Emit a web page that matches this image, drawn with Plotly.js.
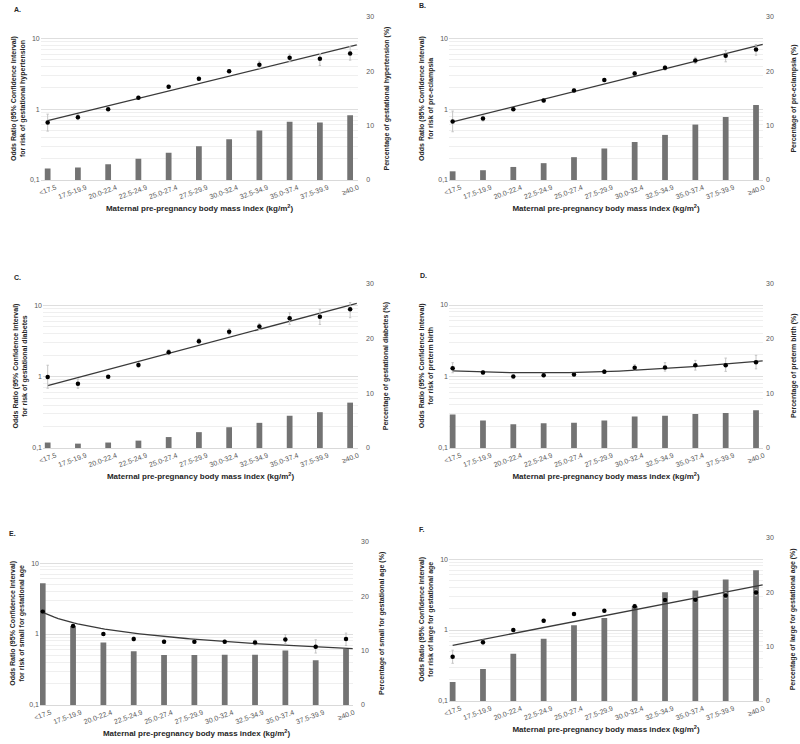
<!DOCTYPE html>
<html><head><meta charset="utf-8">
<script src="https://cdn.plot.ly/plotly-3.0.1.min.js"></script>
<style>html,body{margin:0;padding:0;background:#fff}#chart{width:800px;height:744px}</style>
</head><body><div id="chart"></div>
<script>
// ---------- DATA ----------
const bmiCategories = ["<17.5","17.5-19.9","20.0-22.4","22.5-24.9","25.0-27.4","27.5-29.9","30.0-32.4","32.5-34.9","35.0-37.4","37.5-39.9","≥40.0"];
const orTickValues = [0.1,1,10];
const orTickLabels = ["0,1","1","10"];

// A. gestational hypertension
const pctHypertension  = [2.1,2.3,2.9,3.9,5.0,6.2,7.5,9.1,10.7,10.6,11.9];
const orHypertension   = [0.65,0.77,1.0,1.45,2.07,2.68,3.44,4.23,5.3,5.13,6.1];
const lowHypertension  = [0.49,0.71,1.0,1.39,1.97,2.55,3.28,3.79,4.66,4.13,4.92];
const highHypertension = [0.85,0.84,1.0,1.52,2.18,2.82,3.62,4.76,5.98,6.1,7.59];

// B. pre-eclampsia
const pctPreeclampsia  = [1.6,1.8,2.4,3.1,4.2,5.8,7.0,8.3,10.2,11.6,13.8];
const orPreeclampsia   = [0.67,0.74,1.0,1.33,1.84,2.57,3.19,3.84,4.86,5.66,6.96];
const lowPreeclampsia  = [0.48,0.68,1.0,1.27,1.76,2.45,3.0,3.55,4.4,4.66,5.78];
const highPreeclampsia = [0.94,0.80,1.0,1.40,1.94,2.7,3.4,4.15,5.4,6.73,8.18];

// C. gestational diabetes
const pctDiabetes  = [1.0,0.8,1.0,1.35,2.0,2.9,3.8,4.6,5.9,6.55,8.3];
const orDiabetes   = [0.99,0.80,1.0,1.46,2.2,3.15,4.27,5.08,6.6,6.95,8.83];
const lowDiabetes  = [0.69,0.69,1.0,1.35,2.05,2.9,3.9,4.6,5.42,5.42,6.73];
const highDiabetes = [1.45,0.93,1.0,1.58,2.4,3.45,4.7,5.6,7.9,8.83,10.97];

// D. preterm birth
const pctPreterm  = [6.1,5.0,4.35,4.5,4.6,5.0,5.75,5.9,6.2,6.4,6.9];
const orPreterm   = [1.30,1.14,1.0,1.04,1.07,1.17,1.33,1.34,1.44,1.44,1.585];
const lowPreterm  = [1.13,1.08,1.0,0.99,1.01,1.11,1.24,1.19,1.23,1.18,1.28];
const highPreterm = [1.56,1.21,1.0,1.11,1.13,1.25,1.46,1.56,1.68,1.81,1.98];

// E. small for gestational age
const pctSGA  = [22.35,14.5,11.5,9.86,9.2,9.2,9.25,9.25,10.0,8.2,10.3];
const orSGA   = [2.07,1.30,1.0,0.85,0.78,0.78,0.78,0.76,0.84,0.66,0.85];
const lowSGA  = [1.98,1.25,1.0,0.80,0.74,0.74,0.74,0.70,0.73,0.54,0.69];
const highSGA = [2.2,1.36,1.0,0.91,0.82,0.82,0.82,0.82,0.98,0.83,1.03];

// F. large for gestational age
const pctLGA  = [3.5,5.9,8.7,11.45,13.9,15.25,17.4,19.96,20.3,22.3,24.0];
const orLGA   = [0.42,0.67,1.0,1.35,1.68,1.87,2.17,2.64,2.67,3.06,3.37];
const lowLGA  = [0.34,0.62,1.0,1.28,1.6,1.8,2.08,2.5,2.5,2.8,3.05];
const highLGA = [0.52,0.72,1.0,1.42,1.75,1.95,2.3,2.8,2.9,3.35,3.7];

// Trendlines: OR of the trendline at the first,
// middle (27.5-29.9) and last BMI category; type of Excel trendline.
const trendTypes  = ["exp","exp","exp","poly2","power","exp"];
const trendFirst  = [0.69,0.66,0.75,1.20,2.02,0.61];
const trendMiddle = [2.30,2.27,2.75,1.17,0.88,1.59];
const trendLast   = [7.66,7.78,10.1,1.62,0.63,4.14];

const panelLetters = ["A.","B.","C.","D.","E.","F."];
const outcomeRisk = ["gestational hypertension","pre-eclampsia","gestational diabetes","preterm birth","small for gestational age","large for gestational age"];

// ---------- LAYOUT GEOMETRY (px) ----------
const panelGeom = [
  {L:40.7,R:358.3,T:17,B:180,x0:-0.23,x1:10.27,lx:12,ly:10,rls:7,rts:10},
  {L:449,R:763,T:17,B:180,x0:-0.12,x1:10.23,lx:417,ly:6,rls:2,rts:18},
  {L:43,R:358,T:284,B:448,x0:-0.155,x1:10.26,lx:12,ly:277,rls:7,rts:10},
  {L:449,R:763,T:283.5,B:448,x0:-0.12,x1:10.23,lx:418,ly:275,rls:2,rts:18},
  {L:40,R:353,T:541.7,B:705,x0:-0.09,x1:10.23,lx:7,ly:533.5,rls:7,rts:11},
  {L:449,R:763,T:537.7,B:701,x0:-0.12,x1:10.23,lx:417,ly:529,rls:2,rts:17}
];

const panelData = [
  [pctHypertension,orHypertension,lowHypertension,highHypertension],
  [pctPreeclampsia,orPreeclampsia,lowPreeclampsia,highPreeclampsia],
  [pctDiabetes,orDiabetes,lowDiabetes,highDiabetes],
  [pctPreterm,orPreterm,lowPreterm,highPreterm],
  [pctSGA,orSGA,lowSGA,highSGA],
  [pctLGA,orLGA,lowLGA,highLGA]
];

// ---------- TREND CURVES (Excel-style x = 1..n) ----------
function trendCurve(p, n, endIdx){
  const type=trendTypes[p], y1=trendFirst[p], ym=trendMiddle[p], yn=trendLast[p];
  let f;
  if(type==="exp"){const b=Math.log(yn/y1)/(n-1);f=x=>y1*Math.exp(b*(x-1));}
  else if(type==="power"){const b=Math.log(yn/y1)/Math.log(n);f=x=>y1*Math.pow(x,b);}
  else {
    const xm=(n+1)/2, xs=[1,xm,n], ys=[y1,ym,yn];
    f=x=>{let s=0;for(let i=0;i<3;i++){let t=ys[i];for(let j=0;j<3;j++)if(j!==i)t*=(x-xs[j])/(xs[i]-xs[j]);s+=t;}return s;};
  }
  const tx=[],ty=[];const N=80;
  for(let k=0;k<=N;k++){const idx=endIdx*k/N;tx.push(idx);ty.push(f(idx+1));}
  return [tx,ty];
}

// ---------- BUILD ----------
const catIdx = bmiCategories.map((_,i)=>i);
const traces=[]; const layout={
  width:800,height:744,margin:{l:0,r:0,t:0,b:0},showlegend:false,
  paper_bgcolor:'#ffffff',plot_bgcolor:'#ffffff',
  font:{family:'Liberation Sans, Arial, sans-serif',size:7,color:'#595959'},
  annotations:[]
};
const titleFont={family:'Liberation Sans, Arial, sans-serif',size:7,color:'#262626',weight:700};

panelGeom.forEach((g,p)=>{
  const k=p+1, xa='x'+(k===1?'':k), yb='y'+(2*k-1===1?'':(2*k-1)), yo='y'+(2*k);
  const [pct,or,lo,hi]=panelData[p];
  traces.push({type:'bar',x:catIdx,y:pct,xaxis:xa,yaxis:yb,width:0.19,marker:{color:'#737373'},hoverinfo:'skip'});
  const [tx,ty]=trendCurve(p,or.length,10.22);
  traces.push({type:'scatter',mode:'lines',x:tx,y:ty,xaxis:xa,yaxis:yo,line:{color:'#3a3a3a',width:1.3},hoverinfo:'skip'});
  traces.push({type:'scatter',mode:'markers',x:catIdx,y:or,xaxis:xa,yaxis:yo,
    marker:{color:'#000',size:4.5},
    error_y:{type:'data',symmetric:false,array:hi.map((h,i)=>h-or[i]),arrayminus:lo.map((l,i)=>or[i]-l),color:'#c4c4c4',thickness:1,width:1.2}});
  const xKey='xaxis'+(k===1?'':k), ybKey='yaxis'+(2*k-1===1?'':(2*k-1)), yoKey='yaxis'+(2*k);
  layout[xKey]={domain:[g.L/800,g.R/800],anchor:yb,range:[g.x0,g.x1],tickmode:'array',tickvals:catIdx,ticktext:bmiCategories,
    tickangle:-20,ticklabelshift:8,showgrid:false,zeroline:false,showline:true,linecolor:'#d9d9d9',ticks:'',
    tickfont:{size:7,color:'#595959'},
    title:{text:'Maternal pre-pregnancy body mass index (kg/m<sup>2</sup>)',font:Object.assign({},titleFont,{size:8}),standoff:6}};
  layout[ybKey]={domain:[1-g.B/744,1-g.T/744],anchor:xa,side:'right',range:[0,30],dtick:10,showgrid:false,zeroline:false,ticks:'',
    ticklabelstandoff:g.rls,tickfont:{size:7,color:'#595959'},
    title:{text:'Percentage of '+outcomeRisk[p]+' (%)',font:titleFont,standoff:g.rts}};
  layout[yoKey]={overlaying:yb,anchor:xa,side:'left',type:'log',range:[-1,Math.log10(20)],
    tickmode:'array',tickvals:orTickValues,ticktext:orTickLabels,
    showgrid:true,gridcolor:'#dedede',gridwidth:1,zeroline:false,ticks:'',
    minor:{tickmode:'linear',dtick:'D1',showgrid:true,gridcolor:'#efefef',gridwidth:1},
    tickfont:{size:7,color:'#595959'},
    title:{text:'Odds Ratio (95% Confidence Interval)<br>for risk of '+outcomeRisk[p],font:titleFont,standoff:3}};
  layout.annotations.push({text:'<b>'+panelLetters[p]+'</b>',xref:'paper',yref:'paper',x:g.lx/800,y:1-g.ly/744,
    xanchor:'left',yanchor:'middle',showarrow:false,font:{size:7,color:'#262626'}});
});

Plotly.newPlot('chart',traces,layout,{staticPlot:true});
</script></body></html>
